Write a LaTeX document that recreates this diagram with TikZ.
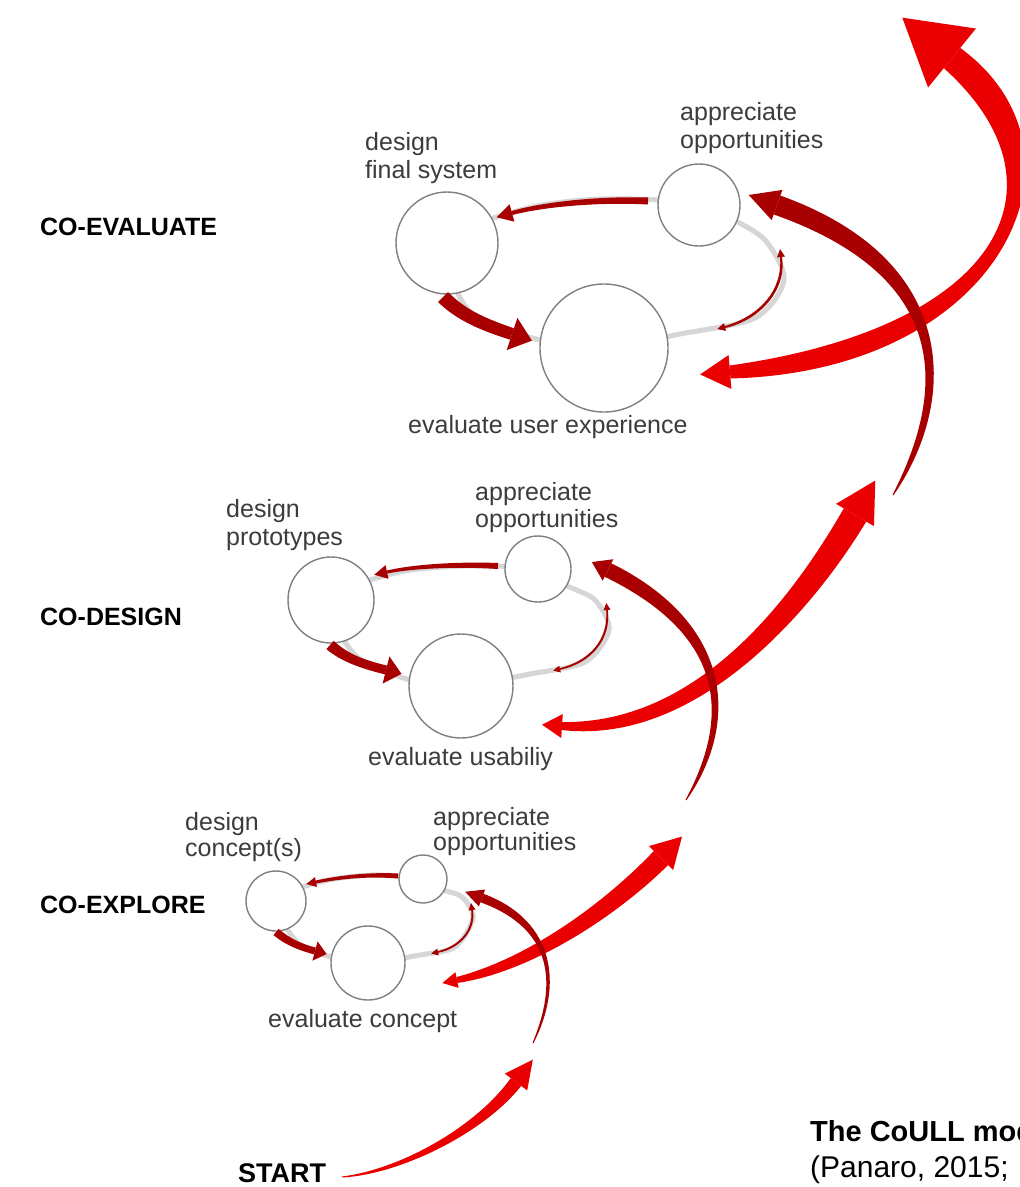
\documentclass[tikz,border=0pt]{standalone}
\usepackage{fontspec}
\setmainfont{Liberation Sans}
\usetikzlibrary{calc}
\definecolor{dred}{RGB}{168,0,0}
\definecolor{bred}{RGB}{234,0,0}
\definecolor{txtgray}{RGB}{60,60,60}
\definecolor{cgray}{RGB}{128,128,128}
\definecolor{tgray}{RGB}{214,214,214}
% tapered shaft along a cubic: P0 C1 C2 P3, half widths w0 wa wb w1, style
\newcommand{\shaft}[9]{%
  \path (#1) coordinate (q0) (#2) coordinate (q1) (#3) coordinate (q2) (#4) coordinate (q3);
  \path ($(q0)!#5!90:(q1)$) coordinate (l0) ($(q0)!#5!-90:(q1)$) coordinate (r0)
        ($(q0)!#6!90:(q1)$) coordinate (la) ($(q0)!#6!-90:(q1)$) coordinate (ra)
        ($(q3)!#7!-90:(q2)$) coordinate (lb) ($(q3)!#7!90:(q2)$) coordinate (rb)
        ($(q3)!#8!-90:(q2)$) coordinate (l3) ($(q3)!#8!90:(q2)$) coordinate (r3);
  \path ($(q1)+(la)-(q0)$) coordinate (l1) ($(q1)+(ra)-(q0)$) coordinate (r1)
        ($(q2)+(lb)-(q3)$) coordinate (l2) ($(q2)+(rb)-(q3)$) coordinate (r2);
  \fill[#9] (l0) .. controls (l1) and (l2) .. (l3) -- (r3) .. controls (r2) and (r1) .. (r0) -- cycle;
}
% triangular head: base point, point behind, half width, length, style
\newcommand{\ahead}[5]{%
  \fill[#5] ($(#1)!#3!90:(#2)$) -- ($(#1)!-#4!(#2)$) -- ($(#1)!#3!-90:(#2)$) -- cycle;
}
\begin{document}
\begin{tikzpicture}[x=1pt,y=-1pt,
  circ/.style={circle,draw=cgray,fill=white,line width=1.4pt,inner sep=0pt},
  lbl/.style={text=txtgray,font=\fontsize{25}{28}\selectfont,inner sep=0pt,anchor=base west},
  stage/.style={text=black,font=\fontsize{25}{28}\selectfont\bfseries,inner sep=0pt,anchor=base west},
  track/.style={draw=tgray,line width=5pt}]
\useasboundingbox (0,0) rectangle (1020,1187);
\fill[white] (0,0) rectangle (1020,1187);

% ---------- gray tracks ----------
\draw[track] plot[smooth cycle] coordinates {(699,203) (600,199) (520,210) (447,243) (470,312) (540,340) (604,348) (680,334) (755,318) (784,280) (765,240) (730,218)};
\draw[track] plot[smooth cycle] coordinates {(538,569) (465,566) (395,573) (331,600) (355,655) (410,680) (461,686) (530,674) (585,662) (609,630) (595,600) (565,585)};
\draw[track] plot[smooth cycle] coordinates {(423,879) (372,875) (320,882) (276,901) (298,943) (335,958) (368,963) (420,955) (455,947) (473,918) (462,897) (440,889)};

% ---------- circles ----------
\node[circ,minimum size=102pt] (dfs) at (447,243) {};
\node[circ,minimum size=82pt]  (ap3) at (699,205) {};
\node[circ,minimum size=128pt] (eux) at (604,348) {};
\node[circ,minimum size=86pt]  (dpr) at (331,600) {};
\node[circ,minimum size=66pt]  (ap2) at (538,569) {};
\node[circ,minimum size=104pt] (eus) at (461,686) {};
\node[circ,minimum size=60pt]  (dco) at (276,901) {};
\node[circ,minimum size=48pt]  (ap1) at (423,879) {};
\node[circ,minimum size=74pt]  (eco) at (368,963) {};

% ---------- inner loop arrows ----------
% top group
\shaft{648,201}{600,199}{545,204}{512,213}{3.5pt}{3pt}{2.5pt}{2pt}{dred}
\ahead{512,213}{545,204}{9pt}{16pt}{dred}
\shaft{443,297}{462,316}{485,325}{512,334}{7pt}{7pt}{6.5pt}{6pt}{dred}
\ahead{512,334}{485,325}{17pt}{21pt}{dred}
\shaft{725,327}{760,318}{785,290}{781,257}{1pt}{2pt}{2pt}{1pt}{dred}
\ahead{725,327}{760,318}{4pt}{8pt}{dred}
\ahead{781,257}{785,290}{4pt}{8pt}{dred}
% middle group
\shaft{498,566}{460,564}{415,566}{387,572}{3pt}{2.5pt}{2pt}{1.5pt}{dred}
\ahead{387,572}{415,566}{7pt}{13pt}{dred}
\shaft{330,645}{345,658}{362,664}{386,670}{5.5pt}{5pt}{4.5pt}{4.5pt}{dred}
\ahead{386,670}{362,664}{14pt}{16pt}{dred}
\shaft{560,669}{590,662}{610,640}{607,610}{0.8pt}{1.6pt}{1.6pt}{0.8pt}{dred}
\ahead{560,669}{590,662}{3.5pt}{7pt}{dred}
\ahead{607,610}{610,640}{3.5pt}{7pt}{dred}
% lower group
\shaft{398,876}{370,874}{340,877}{316,882}{2.5pt}{2pt}{1.8pt}{1.5pt}{dred}
\ahead{316,882}{340,877}{5pt}{10pt}{dred}
\shaft{276,932}{288,942}{300,947}{315,951}{4pt}{4pt}{3.5pt}{3.5pt}{dred}
\ahead{315,951}{300,947}{10pt}{12pt}{dred}
\shaft{438,952}{460,947}{475,930}{472,910}{0.8pt}{1.5pt}{1.5pt}{0.8pt}{dred}
\ahead{438,952}{460,947}{3.5pt}{7pt}{dred}
\ahead{472,910}{475,930}{3.5pt}{7pt}{dred}

% ---------- big bright red arrows ----------
\coordinate (s1a) at (342,1177); \coordinate (s1b) at (400,1172); \coordinate (s1c) at (480,1130); \coordinate (s1d) at (516,1082);
\shaft{s1a}{s1b}{s1c}{s1d}{0.5pt}{2.5pt}{5pt}{6.5pt}{bred}
\ahead{s1d}{s1c}{14pt}{28pt}{bred}

\coordinate (b1a) at (457,980); \coordinate (b1b) at (530,965); \coordinate (b1c) at (610,910); \coordinate (b1d) at (661,858);
\shaft{b1a}{b1b}{b1c}{b1d}{3pt}{7pt}{9pt}{10pt}{bred}
\ahead{b1a}{b1b}{8pt}{15pt}{bred}
\ahead{b1d}{b1c}{17pt}{30pt}{bred}

\coordinate (b2a) at (562,726); \coordinate (b2b) at (700,735); \coordinate (b2c) at (805,600); \coordinate (b2d) at (855,515);
\shaft{b2a}{b2b}{b2c}{b2d}{4pt}{11pt}{12pt}{13pt}{bred}
\ahead{b2a}{b2b}{12pt}{20pt}{bred}
\ahead{b2d}{b2c}{22pt}{40pt}{bred}

\coordinate (b3a) at (730,372); \coordinate (b3b) at (1000,350); \coordinate (b3c) at (1090,170); \coordinate (b3d) at (952,58);
\shaft{b3a}{b3b}{b3c}{b3d}{6.5pt}{22pt}{22pt}{13pt}{bred}
\ahead{b3a}{b3b}{17pt}{30pt}{bred}
\ahead{b3d}{b3c}{38pt}{64pt}{bred}

% ---------- big dark red arrows ----------
\coordinate (d1a) at (533,1043); \coordinate (d1b) at (560,985); \coordinate (d1c) at (555,925); \coordinate (d1d) at (482,898);
\shaft{d1a}{d1b}{d1c}{d1d}{0.5pt}{3pt}{4pt}{4.5pt}{dred}
\ahead{d1d}{d1c}{9pt}{18pt}{dred}

\coordinate (d2a) at (686,800); \coordinate (d2b) at (735,720); \coordinate (d2c) at (730,630); \coordinate (d2d) at (608,570);
\shaft{d2a}{d2b}{d2c}{d2d}{0.5pt}{6pt}{7pt}{7.5pt}{dred}
\ahead{d2d}{d2c}{12pt}{18pt}{dred}

\coordinate (d3a) at (893,495); \coordinate (d3b) at (950,400); \coordinate (d3c) at (960,270); \coordinate (d3d) at (777,205);
\shaft{d3a}{d3b}{d3c}{d3d}{0.5pt}{8pt}{9.5pt}{10pt}{dred}
\ahead{d3d}{d3c}{16pt}{30pt}{dred}

% ---------- texts ----------
\node[stage] (sev) at (40,235) {CO-EVALUATE};
\node[stage] (sde) at (40,625) {CO-DESIGN};
\node[stage] (sex) at (40,913) {CO-EXPLORE};
\node[stage,font=\fontsize{27}{30}\selectfont\bfseries] (start) at (238,1182) {START};

\node[lbl] (t3a) at (365,150) {design};
\node[lbl] (t3b) at (365,178) {final system};
\node[lbl] (t3c) at (680,120) {appreciate};
\node[lbl] (t3d) at (680,148) {opportunities};
\node[lbl] (t3e) at (408,433) {evaluate user experience};

\node[lbl] (t2a) at (226,517) {design};
\node[lbl] (t2b) at (226,545) {prototypes};
\node[lbl] (t2c) at (475,500) {appreciate};
\node[lbl] (t2d) at (475,527) {opportunities};
\node[lbl] (t2e) at (368,765) {evaluate usabiliy};

\node[lbl] (t1a) at (185,830) {design};
\node[lbl] (t1b) at (185,856) {concept(s)};
\node[lbl] (t1c) at (433,825) {appreciate};
\node[lbl] (t1d) at (433,850) {opportunities};
\node[lbl] (t1e) at (268,1027) {evaluate concept};

\node[stage,font=\fontsize{29}{32}\selectfont\bfseries] (cap1) at (810,1141) {The CoULL model};
\node[stage,font=\fontsize{30}{33}\selectfont] (cap2) at (810,1177) {(Panaro, 2015;};
\end{tikzpicture}
\end{document}
